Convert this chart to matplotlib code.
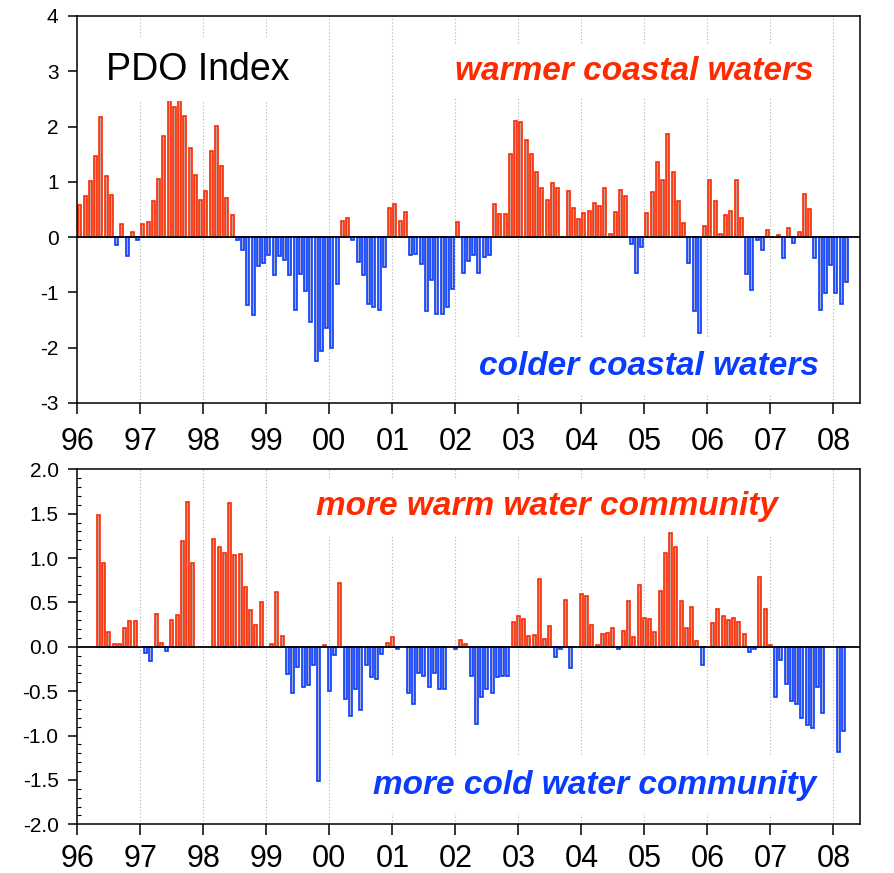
import numpy as np
import matplotlib
matplotlib.use('Agg')
import matplotlib.pyplot as plt
from matplotlib.ticker import MultipleLocator, FormatStrFormatter

plt.rcParams['font.family'] = ['Liberation Sans', 'DejaVu Sans']
plt.rcParams['axes.unicode_minus'] = False

# Monthly PDO index, Jan 1996 - Mar 2008
pdo = [
    0.59, 0.75, 1.01, 1.46, 2.18, 1.10, 0.77, -0.15, 0.24, -0.34, 0.10, -0.05,     # 1996
    0.23, 0.28, 0.65, 1.05, 1.83, 2.76, 2.35, 2.79, 2.19, 1.62, 1.13, 0.68,        # 1997
    0.83, 1.56, 2.01, 1.28, 0.70, 0.40, -0.05, -0.23, -1.22, -1.40, -0.53, -0.46,  # 1998
    -0.33, -0.68, -0.34, -0.42, -0.69, -1.31, -0.67, -0.97, -1.54, -2.24, -2.06, -1.64,  # 1999
    -2.01, -0.84, 0.29, 0.35, -0.06, -0.45, -0.68, -1.21, -1.26, -1.32, -0.54, 0.52,     # 2000
    0.60, 0.29, 0.45, -0.33, -0.31, -0.48, -1.33, -0.78, -1.39, -1.39, -1.27, -0.94,     # 2001
    0.28, -0.65, -0.44, -0.33, -0.65, -0.36, -0.32, 0.60, 0.42, 0.42, 1.51, 2.10,        # 2002
    2.09, 1.75, 1.51, 1.18, 0.89, 0.68, 0.97, 0.88, 0.01, 0.83, 0.52, 0.33,              # 2003
    0.43, 0.48, 0.61, 0.57, 0.88, 0.05, 0.45, 0.86, 0.75, -0.12, -0.65, -0.18,           # 2004
    0.44, 0.81, 1.36, 1.04, 1.86, 1.17, 0.66, 0.25, -0.47, -1.33, -1.73, 0.20,           # 2005
    1.04, 0.66, 0.05, 0.40, 0.48, 1.04, 0.35, -0.66, -0.95, -0.06, -0.23, 0.13,          # 2006
    0.01, 0.04, -0.37, 0.16, -0.11, 0.10, 0.78, 0.50, -0.37, -1.32, -1.01, -0.51,        # 2007
    -1.01, -1.21, -0.81,                                                                 # 2008
]

# Copepod community index, months 1..146 counted from Jan 1996 (nan = no sample)
nan = np.nan
copepod = [
    nan, nan, nan, 1.49, 0.94, 0.17, 0.03, 0.03, 0.21, 0.29, 0.29, nan,            # 1996
    -0.07, -0.16, 0.37, 0.04, -0.05, 0.30, 0.36, 1.19, 1.63, 0.94, nan, nan,       # 1997
    nan, 1.21, 1.12, 1.06, 1.62, 1.03, 1.05, 0.67, 0.42, 0.25, 0.50, nan,          # 1998
    0.03, 0.62, 0.12, -0.31, -0.52, -0.23, -0.45, -0.43, -0.21, -1.51, 0.02, -0.50,  # 1999
    -0.09, 0.72, -0.59, -0.78, -0.47, -0.71, -0.21, -0.34, -0.36, -0.08, 0.04, 0.11, # 2000
    -0.03, nan, -0.52, -0.64, -0.30, -0.33, -0.45, -0.30, -0.47, -0.48, nan, -0.02,  # 2001
    0.08, 0.03, -0.33, -0.87, -0.57, -0.48, -0.52, -0.34, -0.33, -0.33, 0.28, 0.35,  # 2002
    0.31, 0.12, 0.13, 0.76, 0.09, 0.24, -0.12, -0.03, 0.53, -0.24, nan, 0.59,        # 2003
    0.57, 0.25, 0.02, 0.14, 0.15, 0.21, -0.02, 0.18, 0.52, 0.11, 0.70, 0.33,         # 2004
    0.31, 0.17, 0.63, 1.06, 1.28, 1.12, 0.52, 0.21, 0.45, 0.06, -0.20, nan,          # 2005
    0.27, 0.43, 0.35, 0.30, 0.32, 0.28, 0.14, -0.06, -0.02, 0.79, 0.43, 0.015,       # 2006
    -0.56, -0.15, -0.42, -0.61, -0.65, -0.80, -0.88, -0.91, -0.45, -0.75, nan, nan,  # 2007
    -1.18, -0.95,                                                                    # 2008
]

year_ticks = list(range(1996, 2009))
year_labels = ['96', '97', '98', '99', '00', '01', '02', '03', '04', '05', '06', '07', '08']

RED = '#ff2a00'
BLUE = '#0a3cff'
RED_FILL = '#c8a29c'
BLUE_FILL = '#a8aecc'

fig = plt.figure(figsize=(8.94, 8.73), dpi=100)
ax1 = fig.add_axes([0.0865, 0.5384, 0.8755, 0.4433])
ax2 = fig.add_axes([0.0865, 0.0558, 0.8755, 0.4066])


def draw_bars(ax, x, vals):
    vals = np.asarray(vals, dtype=float)
    ok = ~np.isnan(vals)
    x = np.asarray(x)[ok]
    vals = vals[ok]
    edges = [RED if v >= 0 else BLUE for v in vals]
    faces = [RED_FILL if v >= 0 else BLUE_FILL for v in vals]
    ax.bar(x, vals, width=0.58 / 12, color=faces, edgecolor=edges,
           linewidth=1.2, zorder=2)


def style_axes(ax, xpad):
    ax.set_xlim(1996, 1996 + 12.424)
    for yr in year_ticks[1:]:
        ax.axvline(yr, color='#b0b0b0', lw=0.8, ls=(0, (1, 2)), zorder=0)
    ax.axhline(0, color='black', lw=1.3, zorder=3)
    ax.set_xticks(year_ticks)
    ax.set_xticklabels(year_labels)
    ax.tick_params(axis='x', direction='out', length=8, width=1.1,
                   labelsize=22, pad=xpad)
    ax.tick_params(axis='y', which='major', direction='out', length=6.5,
                   width=1.1, labelsize=15, pad=7)
    for s in ax.spines.values():
        s.set_linewidth(1.1)


# top panel: PDO
x_pdo = 1996 + (np.arange(len(pdo)) + 0.5) / 12
draw_bars(ax1, x_pdo, pdo)
style_axes(ax1, 9)
ax1.set_ylim(-3, 4)
ax1.yaxis.set_major_locator(MultipleLocator(1))

box = dict(facecolor='white', edgecolor='none', boxstyle='square,pad=0.35')
ax1.text(0.037, 0.835, 'PDO Index', transform=ax1.transAxes, fontsize=27,
         ha='left', va='baseline', bbox=box, zorder=4)
ax1.text(0.711, 0.835, 'warmer coastal waters', transform=ax1.transAxes,
         fontsize=24, fontweight='bold', fontstyle='italic', color=RED,
         ha='center', va='baseline', bbox=box, zorder=4)
ax1.text(0.731, 0.072, 'colder coastal waters', transform=ax1.transAxes,
         fontsize=24, fontweight='bold', fontstyle='italic', color=BLUE,
         ha='center', va='baseline', bbox=box, zorder=4)

# bottom panel: copepod community index
x_cop = 1996 + np.arange(1, len(copepod) + 1) / 12
draw_bars(ax2, x_cop, copepod)
style_axes(ax2, 6.5)
ax2.set_ylim(-2, 2)
ax2.yaxis.set_major_locator(MultipleLocator(0.5))
ax2.yaxis.set_minor_locator(MultipleLocator(0.1))
ax2.yaxis.set_major_formatter(FormatStrFormatter('%.1f'))
ax2.tick_params(axis='y', which='minor', direction='in', length=3, width=0.8)

box2 = dict(facecolor='white', edgecolor='none', boxstyle='square,pad=0.4')
ax2.text(0.5995, 0.871, 'more warm water community', transform=ax2.transAxes,
         fontsize=24, fontweight='bold', fontstyle='italic', color=RED,
         ha='center', va='baseline', bbox=box2, zorder=1)
ax2.text(0.661, 0.085, 'more cold water community', transform=ax2.transAxes,
         fontsize=24, fontweight='bold', fontstyle='italic', color=BLUE,
         ha='center', va='baseline', bbox=box2, zorder=1)

fig.savefig('out.png', dpi=100)
